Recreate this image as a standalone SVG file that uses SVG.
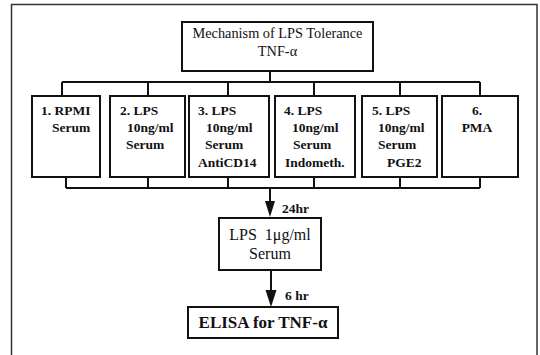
<svg xmlns="http://www.w3.org/2000/svg" width="540" height="355" viewBox="0 0 540 355">
<style>
.box{fill:#fff;stroke:#111;stroke-width:2}
.ln{fill:none;stroke:#111;stroke-width:2}
.t{font-family:"Liberation Serif","Times New Roman",serif;fill:#111}
.s{font-size:13.5px;font-weight:bold}
.c{text-anchor:middle}
</style>
<rect width="540" height="355" fill="#fff"/>
<path d="M11.5,360 V4.5 H537 V360" fill="none" stroke="#333" stroke-width="1.5"/>
<g id="connectors">
<path class="ln" d="M270,71 V82 M62,82 H480 M62,82 V96 M148,82 V96 M228,82 V96 M314,82 V96 M400,82 V96 M480,82 V96"/>
<path class="ln" d="M66,177 V188 M148,177 V188 M228,177 V188 M314,177 V188 M400,177 V188 M480,177 V188 M66,188 H480"/>
<path class="ln" d="M270,188 V203"/>
<polygon points="265,201 275,201 270,217" fill="#111"/>
<path class="ln" d="M271,270 V292"/>
<polygon points="265.5,290 276.5,290 271,307" fill="#111"/>
<text class="t" x="282" y="213" font-size="13.5" font-weight="bold">24hr</text>
<text class="t" x="285" y="300" font-size="13.5" font-weight="bold">6 hr</text>
</g>
<g id="title">
<rect class="box" x="182" y="22" width="191" height="49"/>
<text class="t c" x="277.5" y="38" font-size="14.3">Mechanism of LPS Tolerance</text>
<text class="t c" x="277.5" y="56" font-size="14.3">TNF-α</text>
</g>
<g id="n1">
<rect class="box" x="32" y="96" width="68" height="81"/>
<text class="t s" x="41" y="115">1. RPMI</text>
<text class="t s" x="52" y="132">Serum</text>
</g>
<g id="n2">
<rect class="box" x="110" y="96" width="75" height="81"/>
<text class="t s" x="120" y="115">2. LPS</text>
<text class="t s" x="127" y="132">10ng/ml</text>
<text class="t s" x="126" y="149">Serum</text>
</g>
<g id="n3">
<rect class="box" x="189" y="96" width="80" height="81"/>
<text class="t s" x="198" y="115">3. LPS</text>
<text class="t s" x="206" y="132">10ng/ml</text>
<text class="t s" x="205" y="149">Serum</text>
<text class="t s" x="198" y="167">AntiCD14</text>
</g>
<g id="n4">
<rect class="box" x="275" y="96" width="80" height="81"/>
<text class="t s" x="284" y="115">4. LPS</text>
<text class="t s" x="292" y="132">10ng/ml</text>
<text class="t s" x="293" y="149">Serum</text>
<text class="t s" x="285" y="167">Indometh.</text>
</g>
<g id="n5">
<rect class="box" x="362" y="96" width="75" height="81"/>
<text class="t s" x="372" y="115">5. LPS</text>
<text class="t s" x="378" y="132">10ng/ml</text>
<text class="t s" x="378" y="149">Serum</text>
<text class="t s" x="387" y="167">PGE2</text>
</g>
<g id="n6">
<rect class="box" x="442" y="96" width="76" height="81"/>
<text class="t s c" x="477" y="115">6.</text>
<text class="t s c" x="477" y="132">PMA</text>
</g>
<g id="lps">
<rect class="box" x="219" y="218" width="102" height="52"/>
<text class="t c" x="270" y="240" font-size="16" xml:space="preserve">LPS  1μg/ml</text>
<text class="t c" x="270" y="259" font-size="16">Serum</text>
</g>
<g id="elisa">
<rect class="box" x="188" y="307" width="150" height="31"/>
<text class="t c" x="263" y="328" font-size="17" font-weight="bold">ELISA for TNF-α</text>
</g>
</svg>
